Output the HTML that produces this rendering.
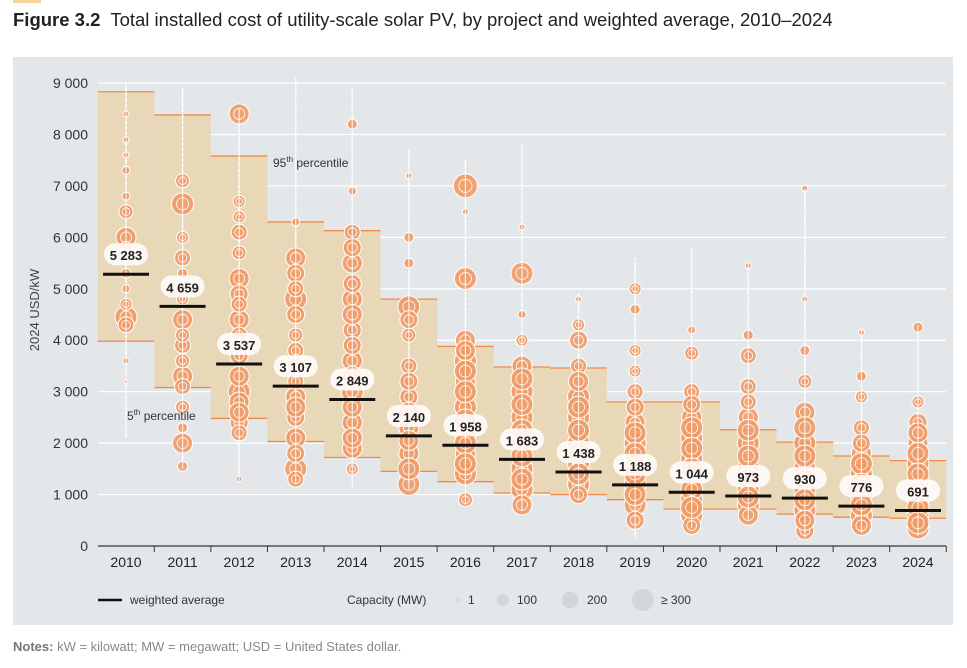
<!DOCTYPE html>
<html><head><meta charset="utf-8"><style>
body{margin:0;width:967px;height:668px;background:#fff;font-family:"Liberation Sans",sans-serif;overflow:hidden}
</style></head><body>
<div style="position:absolute;left:13px;top:0;width:28px;height:3px;background:#f5d59a"></div>
<div style="position:absolute;left:13px;top:9px;font-size:18.5px;color:#222"><b>Figure 3.2</b>&nbsp; Total installed cost of utility-scale solar PV, by project and weighted average, 2010–2024</div>
<svg width="967" height="668" style="position:absolute;left:0;top:0">
<rect x="13" y="57" width="940" height="568" fill="#e3e7ea"/>
<g id="grid"></g><g id="boxes"></g><g id="bub"></g><g id="avg"></g><g id="axes"></g>
<text transform="translate(39,310) rotate(-90)" text-anchor="middle" font-size="13" fill="#444">2024 USD/kW</text>
<text x="273" y="167" font-size="12" fill="#333">95<tspan font-size="8" dy="-5">th</tspan><tspan dy="5"> percentile</tspan></text>
<text x="127" y="420" font-size="12" fill="#333">5<tspan font-size="8" dy="-5">th</tspan><tspan dy="5"> percentile</tspan></text>
<g font-size="12" fill="#333">
<line x1="98" y1="600" x2="122" y2="600" stroke="#111" stroke-width="2.5"/>
<text x="130" y="604">weighted average</text>
<text x="347" y="604">Capacity (MW)</text>
<circle cx="458" cy="600" r="1.5" fill="#fff" stroke="#ccc"/><text x="468" y="604">1</text>
<circle cx="503" cy="600" r="6" fill="#d3d6d8"/><text x="517" y="604">100</text>
<circle cx="570" cy="600" r="8.5" fill="#d3d6d8"/><text x="587" y="604">200</text>
<circle cx="643" cy="600" r="11" fill="#d3d6d8"/><text x="661" y="604">≥ 300</text>
</g>
</svg>
<div style="position:absolute;left:13px;top:639px;font-size:13px;color:#888"><b style="color:#777">Notes:</b> kW = kilowatt; MW = megawatt; USD = United States dollar.</div>
<script>
const years=[2010,2011,2012,2013,2014,2015,2016,2017,2018,2019,2020,2021,2022,2023,2024];
const p95=[8830,8380,7580,6300,6130,4800,3880,3480,3460,2800,2800,2260,2020,1750,1660];
const p5=[3980,3080,2480,2030,1720,1450,1250,1030,1000,900,720,720,620,560,540];
const avgs=[5283,4659,3537,3107,2849,2140,1958,1683,1438,1188,1044,973,930,776,691];
const avgLabels=["5 283","4 659","3 537","3 107","2 849","2 140","1 958","1 683","1 438","1 188","1 044","973","930","776","691"];
const yTicks=[0,1000,2000,3000,4000,5000,6000,7000,8000,9000];
const yTickLabels=["0","1 000","2 000","3 000","4 000","5 000","6 000","7 000","8 000","9 000"];
const spineLo=[2100,1500,1250,1200,1150,1100,800,700,900,150,350,500,150,250,200];
const spineHi=[9000,8900,8500,9100,8900,7700,7500,7800,4900,5600,5800,5500,6950,4200,4300];
const bubbles=[
[[6500,7],[6000,10],[5300,5],[4450,11],[4300,8],[7300,4],[7900,3],[3600,3],[3200,2],[8400,3],[5800,6],[4700,6],[5000,4],[6800,4],[7600,3]],
[[7100,7],[6650,11],[5600,8],[5000,7],[4400,10],[3900,8],[3300,10],[2700,7],[2000,10],[1550,5],[3600,7],[6000,6],[4800,6],[4100,7],[3100,8],[5300,5],[2300,5]],
[[8400,10],[6700,6],[6100,8],[5200,10],[4400,10],[3700,9],[3000,11],[2400,9],[2200,8],[1300,3],[5700,7],[2800,10],[4900,9],[4100,8],[3300,10],[2600,10],[6400,6],[4700,8]],
[[5600,10],[4800,11],[4100,7],[3500,9],[2900,10],[2500,9],[2100,10],[1500,11],[1300,8],[6300,4],[3200,8],[5300,9],[4500,9],[3800,8],[2700,10],[1800,9],[5000,8]],
[[8200,5],[6100,8],[5500,10],[4800,10],[4200,9],[3600,10],[3000,11],[2400,10],[1900,10],[1500,6],[6900,4],[5800,9],[5100,9],[4500,10],[3900,9],[3300,10],[2700,10],[2100,10]],
[[7200,3],[6000,5],[5500,5],[4650,11],[4100,7],[3500,8],[2900,9],[2300,10],[1800,10],[1200,11],[4400,9],[3200,9],[2600,10],[2050,10],[1500,11]],
[[7000,12],[5200,11],[4000,10],[3600,11],[3200,10],[2700,11],[2200,11],[1800,10],[1400,11],[900,7],[6500,3],[3800,10],[3400,11],[3000,11],[2450,11],[2000,11],[1600,11]],
[[6200,3],[5300,11],[4500,4],[3500,10],[3000,11],[2500,11],[2000,11],[1500,11],[1100,11],[800,10],[3250,11],[2750,11],[2250,11],[1750,11],[1300,11],[4000,6]],
[[4800,3],[4000,9],[3500,8],[2900,11],[2500,11],[2000,11],[1600,11],[1200,11],[1000,9],[3200,10],[2700,11],[2250,11],[1800,11],[1400,11],[4300,6]],
[[5000,6],[4600,5],[3800,6],[3000,8],[2400,10],[2000,11],[1600,11],[1200,11],[800,11],[500,9],[2700,9],[2200,11],[1800,11],[1400,11],[1000,11],[3400,6]],
[[4200,4],[3750,7],[3000,8],[2500,10],[2100,11],[1700,11],[1300,11],[900,11],[600,11],[400,9],[2300,11],[1900,11],[1500,11],[1100,11],[750,11],[2750,9]],
[[5450,3],[4100,5],[3700,8],[3100,8],[2500,10],[2000,11],[1500,11],[1100,11],[800,11],[600,10],[2250,11],[1750,11],[1300,11],[950,11],[2800,8]],
[[6950,3],[4800,3],[3800,5],[3200,7],[2600,10],[2000,11],[1500,11],[1100,11],[700,11],[300,9],[2300,11],[1750,11],[1300,11],[900,11],[500,10]],
[[4150,3],[3300,5],[2900,6],[2300,8],[1800,10],[1400,11],[1000,11],[600,11],[400,10],[2000,9],[1600,11],[1200,11],[800,11]],
[[4250,5],[2800,6],[2400,9],[2000,10],[1600,11],[1200,11],[900,11],[600,11],[350,11],[2200,10],[1800,11],[1400,11],[1050,11],[750,11],[450,11]]
];
const NS="http://www.w3.org/2000/svg";
const yS=v=>546-v*0.05144;
const xS=i=>126+i*56.57;
const bw=56.57;
function mk(p,t,a){const e=document.createElementNS(NS,t);for(const k in a)e.setAttribute(k,a[k]);document.getElementById(p).appendChild(e);return e;}
yTicks.forEach((t,i)=>{
 const l=mk('grid','line',{x1:98,x2:946,y1:yS(t),y2:yS(t),stroke:'#fff','stroke-width':1.2});
 
 
 const tx=mk('axes','text',{x:88,y:yS(t)+5,'text-anchor':'end','font-size':14,fill:'#333'});
 tx.textContent=yTickLabels[i];
 
 
});
mk('axes','line',{x1:98,x2:946,y1:yS(0),y2:yS(0),stroke:'#333','stroke-width':1.2});
years.forEach((y,i)=>{
 const x0=xS(i)-bw/2;
 const r=mk('boxes','rect',{x:x0,y:yS(p95[i]),width:bw,height:yS(p5[i])-yS(p95[i]),fill:'#e8d8b8'});
 
 
 mk('boxes','line',{x1:x0,x2:x0+bw,y1:yS(p95[i]),y2:yS(p95[i]),stroke:'#f08a4b','stroke-width':1.3});
 mk('boxes','line',{x1:x0,x2:x0+bw,y1:yS(p5[i]),y2:yS(p5[i]),stroke:'#f08a4b','stroke-width':1.3});
 mk('axes','line',{x1:x0+bw,x2:x0+bw,y1:546,y2:552,stroke:'#333'});
 const tx=mk('axes','text',{x:xS(i),y:567,'text-anchor':'middle','font-size':14,fill:'#222'});
 tx.textContent=y;
 
 
 const sp=mk('bub','line',{x1:xS(i),x2:xS(i),y1:yS(spineHi[i]),y2:yS(spineLo[i]),stroke:'#fff','stroke-width':2,'stroke-dasharray':'1.5 4','stroke-opacity':0.9});
 
 
 bubbles[i].forEach(b=>{
  const c=mk('bub','circle',{cx:xS(i),cy:yS(b[0]),r:b[1],fill:'#ef9a66',stroke:'#fff','stroke-width':1,'fill-opacity':0.9});
  
  
  if(b[1]>5) mk('bub','circle',{cx:xS(i),cy:yS(b[0]),r:b[1]*0.55,fill:'none',stroke:'#fff','stroke-width':0.8});
 });
 mk('bub','line',{x1:xS(i),x2:xS(i),y1:yS(spineHi[i]),y2:yS(spineLo[i]),stroke:'#fff','stroke-width':1.2,'stroke-opacity':0.8});
 const ay=yS(avgs[i]);
 const pill=mk('avg','rect',{x:xS(i)-22,y:ay-31,width:44,height:22,rx:11,fill:'#fff','fill-opacity':0.85});
 
 
 const at=mk('avg','text',{x:xS(i),y:ay-14,'text-anchor':'middle','font-size':13,'font-weight':'bold',fill:'#222'});
 at.textContent=avgLabels[i];
 
 
 const al=mk('avg','line',{x1:xS(i)-23,x2:xS(i)+23,y1:ay,y2:ay,stroke:'#111','stroke-width':3});
 
 
});
</script>
</body></html>
